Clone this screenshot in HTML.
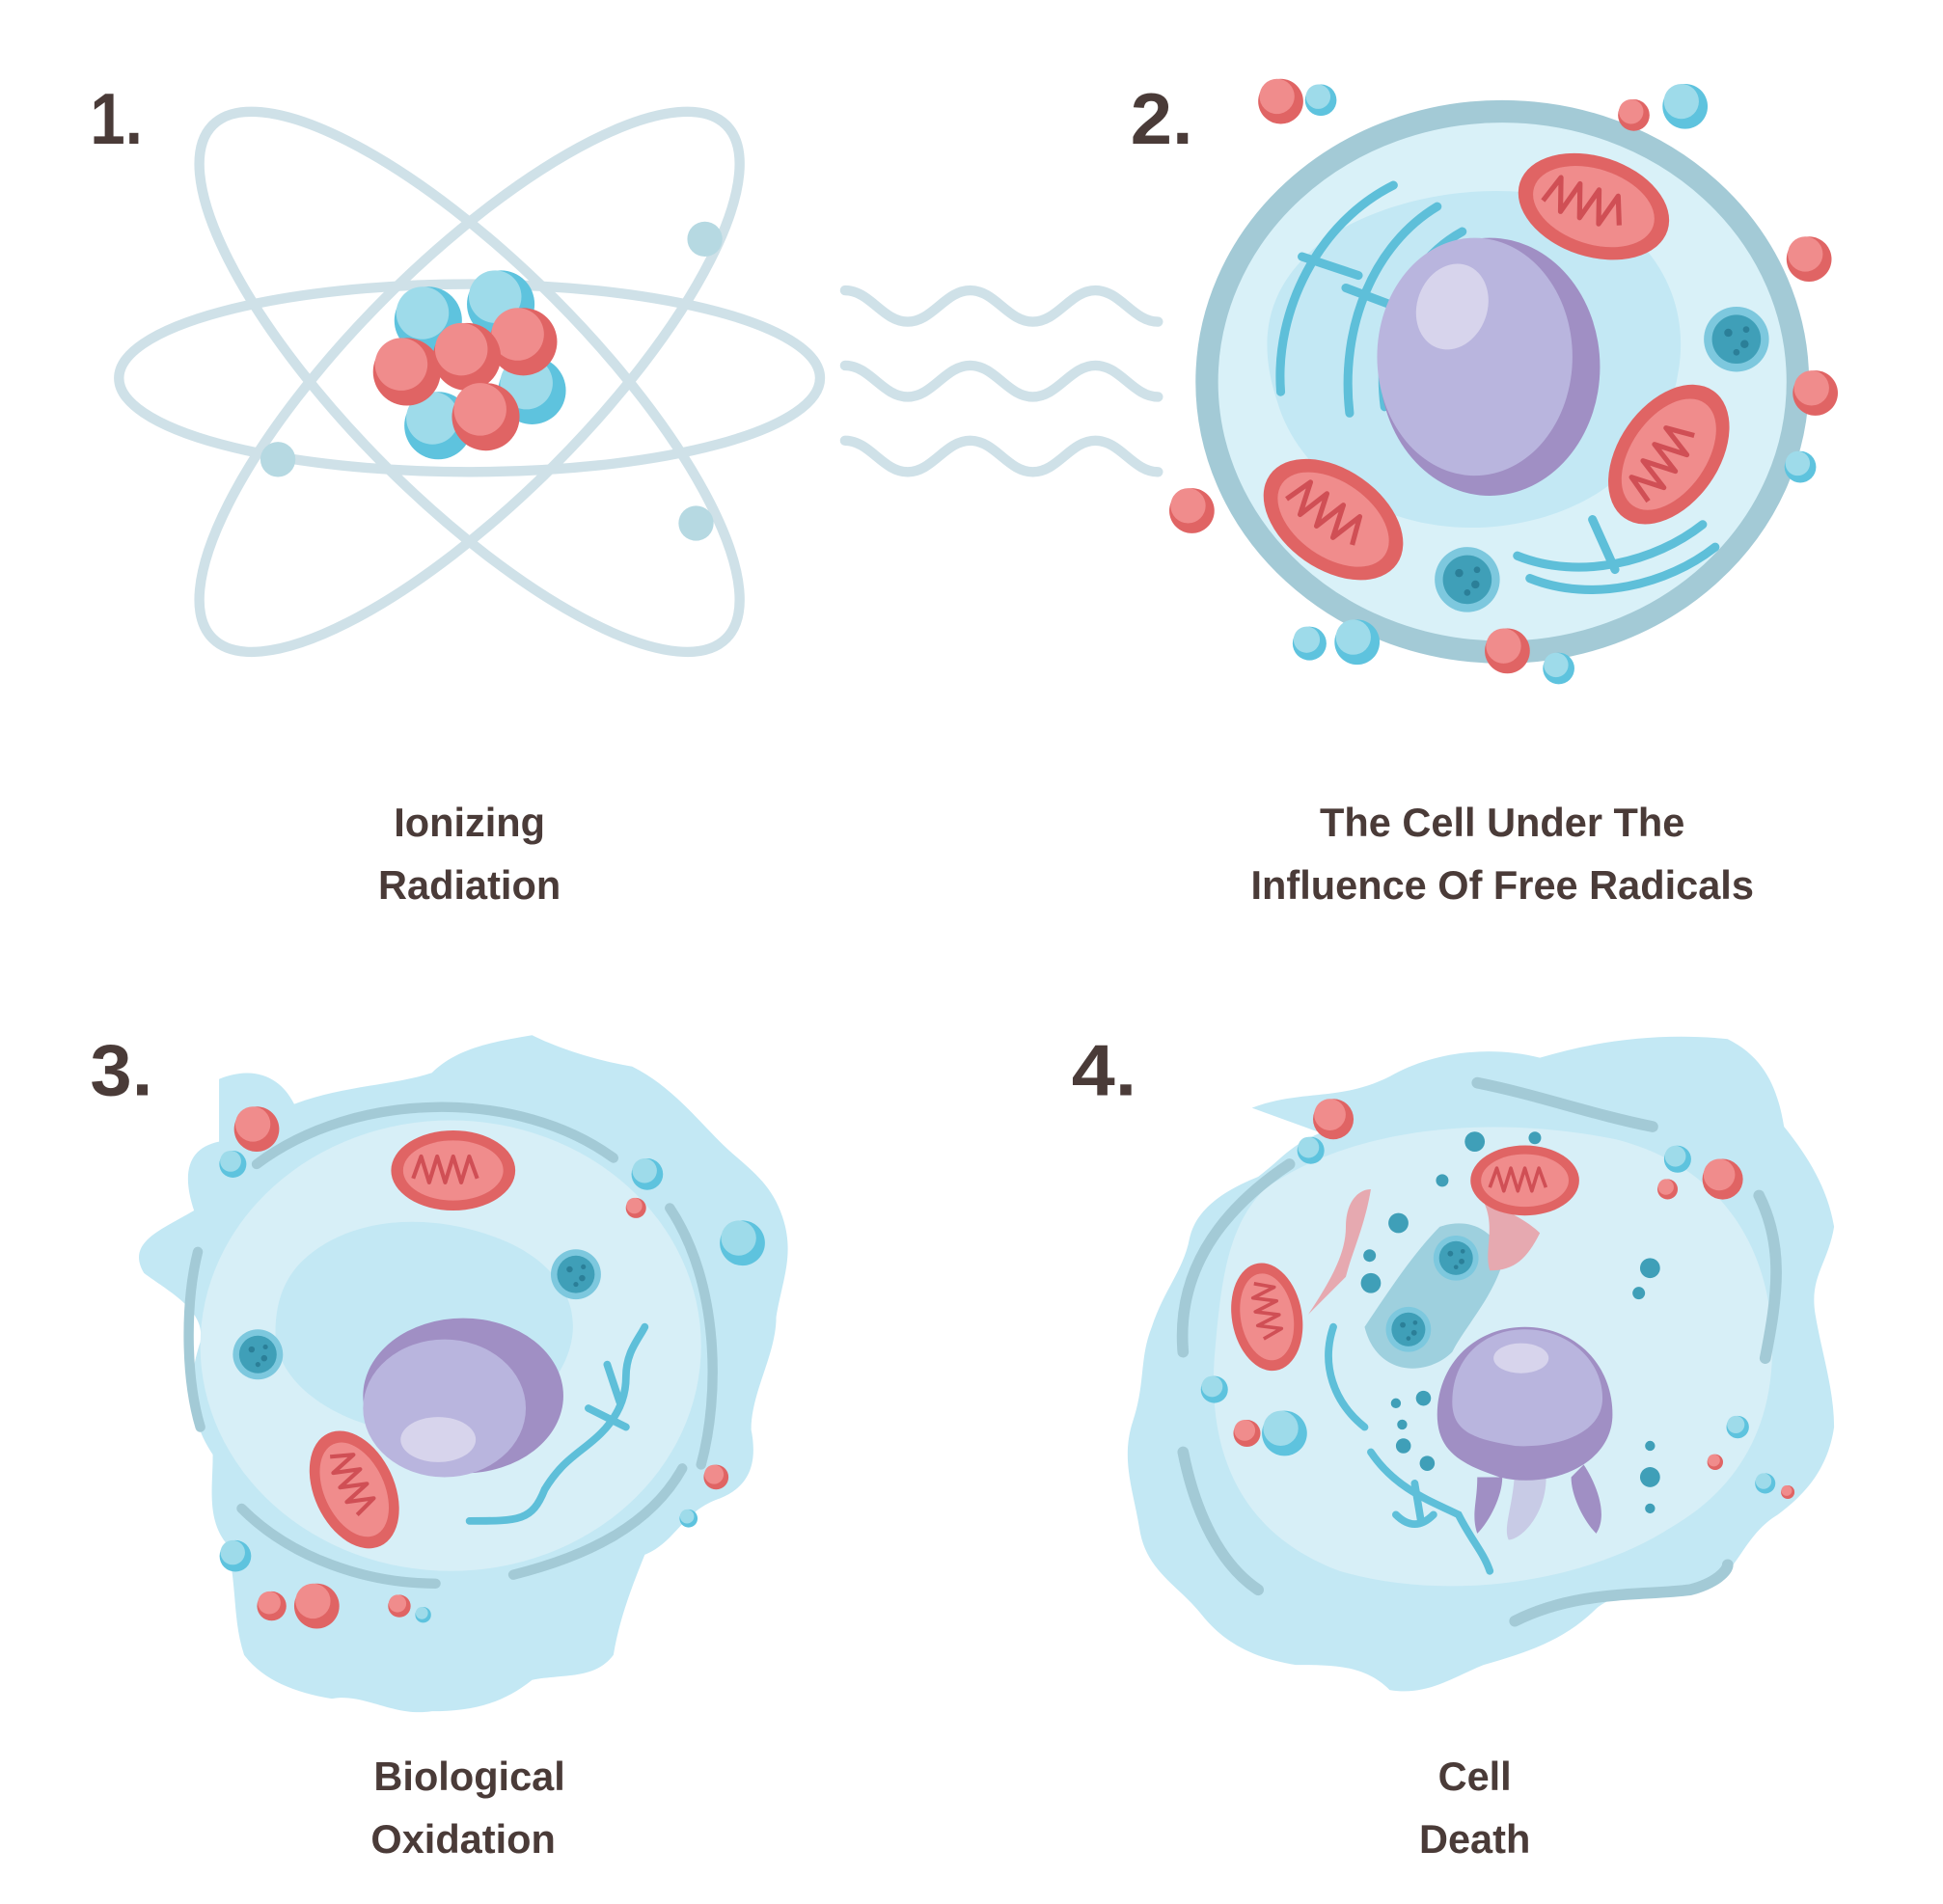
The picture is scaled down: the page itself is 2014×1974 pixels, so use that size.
<!DOCTYPE html>
<html><head><meta charset="utf-8"><style>
html,body{margin:0;padding:0;background:#fff;}
svg{display:block;}
text{font-family:"Liberation Sans",sans-serif;font-weight:bold;fill:#4a3b38;}
</style></head><body>
<svg width="2014" height="1974" viewBox="0 0 1552 1521" preserveAspectRatio="none" xmlns="http://www.w3.org/2000/svg">
<defs>
<g id="mito">
<ellipse cx="0" cy="0" rx="62" ry="40" fill="#e06464"/>
<ellipse cx="0" cy="0" rx="50" ry="30" fill="#f08c8c"/>
<path d="M-40,8 l8,-22 l8,26 l8,-26 l8,26 l8,-26 l8,26 l8,-26 l8,22" fill="none" stroke="#d04f55" stroke-width="4" stroke-linejoin="round"/>
</g>
<g id="ribo">
<circle r="20" fill="#7dc8de"/><circle r="15" fill="#3f9fb8"/>
<circle cx="-5" cy="-4" r="2.5" fill="#2b7f98"/><circle cx="5" cy="3" r="2.5" fill="#2b7f98"/><circle cx="0" cy="8" r="2" fill="#2b7f98"/><circle cx="6" cy="-6" r="2" fill="#2b7f98"/>
</g>
<g id="rb"><circle r="18" fill="#e06464"/><circle cx="-3" cy="-4" r="14" fill="#f08c8c"/></g>
<g id="bb"><circle r="18" fill="#5ec3de"/><circle cx="-3" cy="-4" r="14" fill="#9edbea"/></g>
</defs>

<!-- Labels -->
<text x="72" y="115" font-size="58" textLength="42" lengthAdjust="spacingAndGlyphs">1.</text>
<text x="903" y="115" font-size="58" textLength="50" lengthAdjust="spacingAndGlyphs">2.</text>
<text x="72" y="875" font-size="58" textLength="50" lengthAdjust="spacingAndGlyphs">3.</text>
<text x="856" y="875" font-size="58" textLength="52" lengthAdjust="spacingAndGlyphs">4.</text>
<g font-size="32" text-anchor="middle">
<text x="375" y="668">Ionizing</text>
<text x="375" y="718">Radiation</text>
<text x="1200" y="668">The Cell Under The</text>
<text x="1200" y="718">Influence Of Free Radicals</text>
<text x="375" y="1430">Biological</text>
<text x="370" y="1480">Oxidation</text>
<text x="1178" y="1430">Cell</text>
<text x="1178" y="1480">Death</text>
</g>

<!-- Atom -->
<g fill="none" stroke="#cfe1e8" stroke-width="8">
<ellipse cx="375" cy="302" rx="280" ry="75"/>
<ellipse cx="375" cy="305" rx="290" ry="95" transform="rotate(45 375 305)"/>
<ellipse cx="375" cy="305" rx="290" ry="95" transform="rotate(-45 375 305)"/>
</g>
<g fill="#b6d9e2"><circle cx="563" cy="191" r="14"/><circle cx="222" cy="367" r="14"/><circle cx="556" cy="418" r="14"/></g>
<g>
<use href="#bb" transform="translate(342,256) scale(1.5)"/>
<use href="#bb" transform="translate(400,243) scale(1.5)"/>
<use href="#bb" transform="translate(425,312) scale(1.5)"/>
<use href="#bb" transform="translate(350,340) scale(1.5)"/>
<use href="#rb" transform="translate(325,297) scale(1.5)"/>
<use href="#rb" transform="translate(418,273) scale(1.5)"/>
<use href="#rb" transform="translate(373,285) scale(1.5)"/>
<use href="#rb" transform="translate(388,333) scale(1.5)"/>
</g>

<!-- waves -->
<g fill="none" stroke="#cfe1e8" stroke-width="8" stroke-linecap="round">
<path d="M675,232 c20,0 30,25 50,25 s30,-25 50,-25 s30,25 50,25 s30,-25 50,-25 s30,25 50,25 "/>
<path d="M675,292 c20,0 30,25 50,25 s30,-25 50,-25 s30,25 50,25 s30,-25 50,-25 s30,25 50,25 "/>
<path d="M675,352 c20,0 30,25 50,25 s30,-25 50,-25 s30,25 50,25 s30,-25 50,-25 s30,25 50,25 "/>
</g>

<!-- Cell 2 -->
<ellipse cx="1200" cy="305" rx="236" ry="216" fill="#d9f1f8" stroke="#a3cad6" stroke-width="18"/>
<path d="M1060,190 c60,-40 160,-50 220,-20 c50,30 70,80 60,130 c-10,60 -60,110 -140,120 c-80,10 -160,-30 -180,-100 c-20,-60 0,-100 40,-130z" fill="#c3e8f4"/>
<g fill="none" stroke="#5ebfd9" stroke-width="7" stroke-linecap="round">
<path d="M1113,148 c-60,30 -95,100 -90,165"/>
<path d="M1148,165 c-50,30 -78,95 -70,165"/>
<path d="M1168,185 c-45,25 -70,80 -62,140"/>
<path d="M1040,205 l45,15 M1075,230 l40,15"/>
<path d="M1212,444 c50,20 110,5 148,-25"/>
<path d="M1222,462 c50,20 110,5 148,-25"/>
<path d="M1272,415 l18,40"/>
</g>
<ellipse cx="1190" cy="293" rx="88" ry="103" fill="#a08fc4"/>
<ellipse cx="1178" cy="285" rx="78" ry="95" fill="#b9b5de"/>
<ellipse cx="1160" cy="245" rx="28" ry="35" fill="#d7d4ec" transform="rotate(20 1160 245)"/>
<use href="#mito" transform="translate(1273,165) rotate(18)"/>
<use href="#mito" transform="translate(1333,363) rotate(-55)"/>
<use href="#mito" transform="translate(1065,415) rotate(35)"/>
<use href="#ribo" transform="translate(1387,271) scale(1.3)"/>
<use href="#ribo" transform="translate(1172,463) scale(1.3)"/>
<use href="#rb" transform="translate(1023,81)"/>
<use href="#bb" transform="translate(1055,80) scale(0.7)"/>
<use href="#rb" transform="translate(1305,92) scale(0.7)"/>
<use href="#bb" transform="translate(1346,85)"/>
<use href="#rb" transform="translate(1445,207)"/>
<use href="#rb" transform="translate(1450,314)"/>
<use href="#bb" transform="translate(1438,373) scale(0.7)"/>
<use href="#rb" transform="translate(952,408)"/>
<use href="#bb" transform="translate(1046,514) scale(0.75)"/>
<use href="#bb" transform="translate(1084,513)"/>
<use href="#rb" transform="translate(1204,520)"/>
<use href="#bb" transform="translate(1245,534) scale(0.7)"/>

<!-- Cell 3 -->
<path d="M175,862 c30,-12 50,0 60,20 c40,-15 80,-15 110,-25 c20,-20 50,-25 80,-30 c20,10 50,20 80,25 c30,15 50,40 70,60 c20,20 40,30 50,60 c10,30 0,50 -5,80 c0,30 -20,60 -20,90 c5,25 0,45 -25,55 c-30,10 -35,35 -60,45 c-10,25 -20,50 -25,80 c-15,20 -40,15 -65,20 c-25,20 -50,25 -80,25 c-30,5 -55,-15 -80,-10 c-30,-5 -55,-15 -70,-35 c-10,-30 -5,-60 -15,-90 c-15,-20 -10,-45 -10,-70 c-20,-30 -20,-60 -10,-90 c5,-25 -25,-40 -45,-55 c-15,-25 15,-35 40,-50 c-10,-30 -5,-50 20,-55z" fill="#c3e8f4"/>
<ellipse cx="360" cy="1075" rx="200" ry="180" fill="#d7eff7"/>
<path d="M250,1000 c40,-30 100,-30 150,-10 c50,20 70,60 50,100 c-20,40 -60,60 -120,55 c-60,-5 -110,-40 -110,-80 c0,-30 10,-50 30,-65z" fill="#c3e8f4"/>
<g fill="none" stroke="#a3cad6" stroke-width="8" stroke-linecap="round">
<path d="M205,930 c80,-60 210,-60 285,-5"/>
<path d="M535,965 c40,60 40,150 25,205"/>
<path d="M158,1000 c-10,40 -10,100 2,140"/>
<path d="M193,1205 c40,40 100,60 155,60"/>
<path d="M410,1258 c60,-15 110,-40 135,-85"/>
</g>
<g fill="none" stroke="#5ebfd9" stroke-width="6" stroke-linecap="round">
<path d="M375,1215 c40,0 50,0 60,-25 c15,-25 30,-30 45,-45 c15,-15 20,-30 20,-45 c0,-20 10,-30 15,-40"/>
<path d="M470,1125 l30,15 M485,1090 l10,30"/>
</g>
<ellipse cx="370" cy="1115" rx="80" ry="62" fill="#a08fc4"/>
<ellipse cx="355" cy="1125" rx="65" ry="55" fill="#b9b5de"/>
<ellipse cx="350" cy="1150" rx="30" ry="18" fill="#d7d4ec"/>
<use href="#mito" transform="translate(362,935) scale(0.8)"/>
<use href="#mito" transform="translate(283,1190) rotate(65) scale(0.8)"/>
<use href="#ribo" transform="translate(460,1018)"/>
<use href="#ribo" transform="translate(206,1082)"/>
<use href="#rb" transform="translate(205,902)"/>
<use href="#bb" transform="translate(186,930) scale(0.6)"/>
<use href="#bb" transform="translate(517,938) scale(0.7)"/>
<use href="#rb" transform="translate(508,965) scale(0.45)"/>
<use href="#bb" transform="translate(593,993)"/>
<use href="#rb" transform="translate(572,1180) scale(0.55)"/>
<use href="#bb" transform="translate(550,1213) scale(0.4)"/>
<use href="#bb" transform="translate(188,1243) scale(0.7)"/>
<use href="#rb" transform="translate(217,1283) scale(0.65)"/>
<use href="#rb" transform="translate(253,1283)"/>
<use href="#rb" transform="translate(319,1283) scale(0.5)"/>
<use href="#bb" transform="translate(338,1290) scale(0.35)"/>

<!-- Cell 4 -->
<path d="M1000,885 c40,-15 70,-5 110,-25 c35,-20 80,-25 120,-15 c50,-15 100,-20 150,-15 c30,15 40,40 45,70 c20,25 35,50 40,80 c-5,30 -20,40 -15,70 c5,30 15,60 15,90 c-5,35 -25,55 -45,70 c-25,15 -30,40 -50,55 c-35,10 -70,0 -95,20 c-25,25 -55,35 -90,45 c-25,10 -45,25 -75,20 c-20,-20 -45,-20 -75,-20 c-30,-5 -55,-15 -75,-40 c-20,-25 -45,-35 -50,-70 c-5,-30 -15,-55 -5,-85 c10,-30 5,-50 15,-75 c10,-30 25,-45 30,-70 c5,-25 30,-40 55,-50 c20,-15 25,-25 50,-35z" fill="#c3e8f4"/>
<path d="M1010,950 c70,-50 180,-60 280,-40 c80,20 120,80 125,150 c5,70 -20,125 -80,160 c-70,45 -180,60 -265,35 c-80,-30 -105,-95 -100,-170 c5,-60 10,-105 40,-135z" fill="#d7eff7"/>
<path d="M1090,1060 c20,-30 40,-60 60,-80 c30,-10 50,10 50,30 c-10,30 -30,50 -40,70 c-20,20 -60,20 -70,-20z" fill="#9ed0de"/>
<g fill="none" stroke="#a3cad6" stroke-width="9" stroke-linecap="round">
<path d="M1030,930 c-60,40 -90,90 -85,150"/>
<path d="M945,1160 c10,50 30,90 60,110"/>
<path d="M1180,865 c50,10 90,25 140,35"/>
<path d="M1405,955 c20,40 15,80 5,130"/>
<path d="M1210,1295 c50,-25 100,-20 140,-25 c20,-5 30,-15 30,-20"/>
</g>
<g fill="none" stroke="#5ebfd9" stroke-width="6" stroke-linecap="round">
<path d="M1065,1060 c-10,30 0,60 25,80"/>
<path d="M1095,1160 c20,30 50,40 70,50 c10,20 20,30 25,45"/>
<path d="M1115,1210 c10,10 20,10 30,0 M1130,1185 l5,30"/>
</g>
<path d="M1045,1050 c20,-30 30,-50 30,-70 c0,-20 10,-30 20,-30 c-5,30 -15,50 -20,70 c-10,10 -20,20 -30,30z" fill="#e6a9b0"/>
<path d="M1185,960 c10,20 0,40 5,55 c20,0 30,-10 40,-30 c-10,-10 -30,-20 -45,-25z" fill="#e6a9b0"/>
<use href="#mito" transform="translate(1218,943) scale(0.7)"/>
<use href="#mito" transform="translate(1012,1052) rotate(80) scale(0.7)"/>
<path d="M1210,1170 c0,30 -10,50 -5,60 c10,0 30,-20 30,-50z" fill="#c8cbe6"/>
<path d="M1148,1130 c0,-40 30,-70 70,-70 c40,0 70,30 70,70 c0,40 -50,60 -90,50 c-30,-10 -50,-20 -50,-50z" fill="#a08fc4"/>
<path d="M1160,1120 c0,-35 25,-58 58,-58 c35,0 62,25 62,55 c0,30 -40,40 -70,38 c-30,-5 -50,-10 -50,-35z" fill="#b9b5de"/>
<ellipse cx="1215" cy="1085" rx="22" ry="12" fill="#d7d4ec"/>
<path d="M1180,1180 c0,20 -5,30 0,45 c10,-10 20,-30 20,-45z M1265,1170 c10,15 20,40 10,55 c-10,-10 -20,-30 -20,-45z" fill="#a08fc4"/>
<use href="#ribo" transform="translate(1163,1005) scale(0.9)"/>
<use href="#ribo" transform="translate(1125,1062) scale(0.9)"/>
<g fill="#3f9fb8">
<circle cx="1178" cy="912" r="8"/><circle cx="1226" cy="909" r="5"/><circle cx="1152" cy="943" r="5"/><circle cx="1117" cy="977" r="8"/>
<circle cx="1094" cy="1003" r="5"/><circle cx="1095" cy="1025" r="8"/><circle cx="1318" cy="1013" r="8"/><circle cx="1309" cy="1033" r="5"/>
<circle cx="1137" cy="1117" r="6"/><circle cx="1115" cy="1121" r="4"/><circle cx="1120" cy="1138" r="4"/><circle cx="1121" cy="1155" r="6"/>
<circle cx="1140" cy="1169" r="6"/><circle cx="1318" cy="1155" r="4"/><circle cx="1318" cy="1180" r="8"/><circle cx="1318" cy="1205" r="4"/>
</g>
<use href="#rb" transform="translate(1065,894) scale(0.9)"/>
<use href="#bb" transform="translate(1047,919) scale(0.6)"/>
<use href="#bb" transform="translate(1340,926) scale(0.6)"/>
<use href="#rb" transform="translate(1376,942) scale(0.9)"/>
<use href="#rb" transform="translate(1332,950) scale(0.45)"/>
<use href="#bb" transform="translate(970,1110) scale(0.6)"/>
<use href="#rb" transform="translate(996,1145) scale(0.6)"/>
<use href="#bb" transform="translate(1026,1145)"/>
<use href="#bb" transform="translate(1388,1140) scale(0.5)"/>
<use href="#rb" transform="translate(1370,1168) scale(0.35)"/>
<use href="#bb" transform="translate(1410,1185) scale(0.45)"/>
<use href="#rb" transform="translate(1428,1192) scale(0.3)"/>
</svg>
</body></html>
